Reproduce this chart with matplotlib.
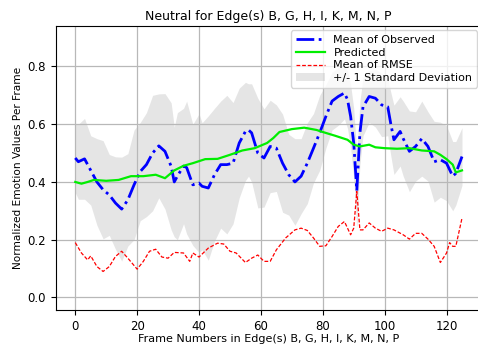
import matplotlib
matplotlib.use("Agg")
import matplotlib.pyplot as plt

# mean of observed (frame, value)
obs_x = [0, 1, 3, 5, 7, 9, 11, 13, 15, 17, 19, 21, 23, 25, 27, 29, 31, 32, 33, 35,
         36, 38, 40, 41, 43, 45, 47, 49, 51, 53, 55, 56, 57, 59, 61, 63, 65, 67, 69, 71,
         73, 75, 77, 79, 81, 83, 85, 87, 88, 89, 90, 91, 92, 93, 95, 97, 99, 101, 102, 103,
         105, 106, 108, 110, 112, 114, 116, 118, 120, 122, 123, 125]
obs_y = [0.483, 0.47, 0.48, 0.44, 0.40, 0.373, 0.355, 0.327, 0.306, 0.338, 0.39, 0.436, 0.46, 0.50, 0.525, 0.506, 0.454, 0.40, 0.42, 0.455,
         0.45, 0.39, 0.396, 0.385, 0.379, 0.425, 0.46, 0.46, 0.465, 0.535, 0.575, 0.58, 0.57, 0.50, 0.483, 0.523, 0.517, 0.465, 0.425, 0.40,
         0.42, 0.465, 0.517, 0.57, 0.627, 0.68, 0.696, 0.708, 0.685, 0.627, 0.535, 0.37, 0.57, 0.66, 0.696, 0.69, 0.667, 0.66, 0.60, 0.546,
         0.575, 0.55, 0.506, 0.523, 0.55, 0.523, 0.47, 0.477, 0.465, 0.42, 0.43, 0.488]
# standard deviation of observed, same frames
obs_std = [0.12, 0.13, 0.14, 0.12, 0.15, 0.17, 0.14, 0.16, 0.18, 0.16, 0.19, 0.17, 0.18, 0.20, 0.18, 0.20, 0.22, 0.19, 0.22, 0.20,
           0.23, 0.21, 0.24, 0.22, 0.25, 0.23, 0.22, 0.24, 0.21, 0.19, 0.17, 0.16, 0.17, 0.19, 0.17, 0.16, 0.15, 0.17, 0.14, 0.15,
           0.13, 0.14, 0.12, 0.13, 0.11, 0.10, 0.10, 0.09, 0.10, 0.11, 0.12, 0.13, 0.11, 0.10, 0.09, 0.10, 0.11, 0.10, 0.11, 0.12,
           0.12, 0.13, 0.14, 0.12, 0.13, 0.12, 0.14, 0.13, 0.13, 0.12, 0.11, 0.10]

pred_x = [0, 2, 4, 6, 10, 14, 18, 22, 26, 29, 32, 35, 38, 42, 46, 50, 54, 58, 62, 64,
          66, 70, 74, 78, 80, 84, 88, 90, 92, 95, 97, 100, 104, 108, 112, 116, 118, 120, 122, 123, 125]
pred_y = [0.40, 0.394, 0.40, 0.407, 0.404, 0.407, 0.42, 0.42, 0.425, 0.413, 0.44, 0.456, 0.465, 0.479, 0.48, 0.494, 0.509, 0.517, 0.535, 0.552,
          0.573, 0.583, 0.588, 0.58, 0.573, 0.56, 0.546, 0.529, 0.523, 0.529, 0.52, 0.517, 0.515, 0.517, 0.509, 0.506, 0.494, 0.479, 0.46, 0.433, 0.44]

rmse_x = [0, 2, 4, 5, 7, 9, 11, 13, 15, 17, 20, 22, 24, 26, 28, 30, 32, 35, 37, 38,
          40, 43, 46, 48, 50, 52, 55, 57, 59, 61, 63, 65, 68, 71, 73, 75, 77, 79, 81, 83,
          85, 87, 89, 90, 91, 92, 93, 95, 97, 99, 101, 103, 106, 108, 110, 112, 114, 116, 118, 120,
          121, 122, 123, 125]
rmse_y = [0.19, 0.154, 0.13, 0.144, 0.107, 0.09, 0.107, 0.142, 0.16, 0.136, 0.098, 0.125, 0.16, 0.167, 0.14, 0.136, 0.156, 0.154, 0.125, 0.154,
          0.14, 0.171, 0.188, 0.185, 0.16, 0.154, 0.121, 0.136, 0.147, 0.125, 0.125, 0.165, 0.206, 0.234, 0.24, 0.232, 0.206, 0.177, 0.179, 0.211,
          0.246, 0.263, 0.217, 0.24, 0.367, 0.234, 0.234, 0.258, 0.24, 0.229, 0.24, 0.234, 0.217, 0.202, 0.222, 0.222, 0.202, 0.177, 0.121, 0.154,
          0.19, 0.177, 0.177, 0.275]

title = "Neutral for Edge(s) B, G, H, I, K, M, N, P"
xlabel = "Frame Numbers in Edge(s) B, G, H, I, K, M, N, P"
ylabel = "Normalized Emotion Values Per Frame"

fig = plt.figure(figsize=(4.78, 3.47), dpi=100)
ax = fig.add_axes([0.117, 0.107, 0.89, 0.818])

lo = [m - s for m, s in zip(obs_y, obs_std)]
hi = [m + s for m, s in zip(obs_y, obs_std)]
l_obs, = ax.plot(obs_x, obs_y, "-.", color="blue", lw=2, label="Mean of Observed", zorder=3)
l_pred, = ax.plot(pred_x, pred_y, "-", color="#00ee00", lw=1.6, label="Predicted", zorder=3)
l_rmse, = ax.plot(rmse_x, rmse_y, "--", color="red", lw=0.9, dashes=(3, 1.5),
                  label="Mean of RMSE", zorder=3)
band = ax.fill_between(obs_x, lo, hi, color="gray", alpha=0.2, lw=0,
                       label="+/- 1 Standard Deviation", zorder=1)

ax.set_xlim(-6.25, 131.25)
ax.set_ylim(-0.043, 0.94)
ax.set_xticks(range(0, 121, 20))
ax.set_yticks([0.0, 0.2, 0.4, 0.6, 0.8])
ax.grid(True, color="#b8b8b8", lw=0.9)
ax.tick_params(labelsize=8.5)

ax.set_title(title, fontsize=9, pad=4)
ax.set_xlabel(xlabel, fontsize=8, labelpad=1)
ax.set_ylabel(ylabel, fontsize=7.6, labelpad=3)
ax.legend(handles=[l_obs, l_pred, l_rmse, band], loc="upper right", fontsize=8,
          handlelength=2.6, borderaxespad=0.4, labelspacing=0.25, framealpha=0.8)

fig.savefig("out.png", dpi=100)
